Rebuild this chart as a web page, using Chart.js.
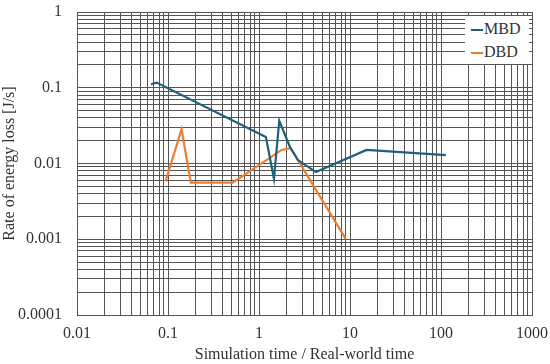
<!DOCTYPE html>
<html>
<head>
<meta charset="utf-8">
<script src="https://cdn.jsdelivr.net/npm/chart.js@4"></script>
<style>
  html, body { margin: 0; padding: 0; background: #fff; }
  #wrap { position: relative; width: 550px; height: 364px; }
  #legend {
    position: absolute; left: 465px; top: 16px; width: 64px; height: 48px;
    background: #fff; font-family: "Liberation Serif", "Times New Roman", serif;
    font-size: 16px; color: #333;
  }
  #legend .item { position: absolute; left: 6px; height: 20px; line-height: 20px; white-space: nowrap; }
  #legend .swatch { display: inline-block; width: 12px; height: 2px; vertical-align: middle; margin-right: 1px; }
</style>
</head>
<body>
<div id="wrap">
  <canvas id="chart" width="550" height="364"></canvas>
  <div id="legend"></div>
</div>
<script>
// Series values (log-log)
const mbdX = [0.065, 0.075, 1.19, 1.46, 1.67, 2.19, 2.68, 4.23, 15.2, 113];
const mbdY = [0.111, 0.117, 0.0224, 0.0063, 0.0367, 0.0165, 0.0111, 0.0077, 0.0151, 0.0129];
const dbdX = [0.094, 0.141, 0.178, 0.514, 1.77, 2.23, 8.97];
const dbdY = [0.0058, 0.0283, 0.0056, 0.0056, 0.0151, 0.0159, 0.00101];

const seriesLabels = ["MBD", "DBD"];
const seriesColors = ["#1f5f7e", "#ed7d31"];

// axis ranges (decades)
const xRange = [0.01, 1000];
const yRange = [0.0001, 1];

const fontFamily = '"Liberation Serif", "Times New Roman", serif';
const textColor = "#333";
const gridColor = "#555";

function toPoints(xs, ys) {
  return xs.map((x, i) => ({ x: x, y: ys[i] }));
}

// 1..9 x 10^n ticks so every minor grid line is drawn
function decadeTicks(min, max) {
  const ticks = [];
  for (let d = min; d <= max * 1.0001; d *= 10) {
    for (let m = 1; m <= 9; m++) {
      const v = Number((m * d).toPrecision(6));
      if (v > max * 1.0001) break;
      ticks.push({ value: v, major: m === 1 });
    }
  }
  return ticks;
}

function decadeLabel(value) {
  const lg = Math.log10(value);
  if (Math.abs(lg - Math.round(lg)) < 1e-6) return String(Number(value.toPrecision(6)));
  return "";
}

const ctx = document.getElementById("chart").getContext("2d");
const chart = new Chart(ctx, {
  type: "line",
  data: {
    datasets: [
      {
        label: seriesLabels[0],
        data: toPoints(mbdX, mbdY),
        borderColor: seriesColors[0],
        borderWidth: 2.2,
        pointRadius: 0,
        fill: false,
        tension: 0,
      },
      {
        label: seriesLabels[1],
        data: toPoints(dbdX, dbdY),
        borderColor: seriesColors[1],
        borderWidth: 2.2,
        pointRadius: 0,
        fill: false,
        tension: 0,
      },
    ],
  },
  options: {
    responsive: false,
    animation: false,
    layout: { padding: { left: 0, right: 18, top: 12, bottom: 0 } },
    plugins: {
      legend: { display: false },
      tooltip: { enabled: false },
    },
    scales: {
      x: {
        type: "logarithmic",
        min: xRange[0],
        max: xRange[1],
        afterBuildTicks: (scale) => { scale.ticks = decadeTicks(xRange[0], xRange[1]); },
        afterFit: (scale) => {
          scale.height = 49;
          scale.paddingLeft = 0;
          scale.paddingRight = 0;
        },
        grid: { color: gridColor, lineWidth: 1, drawTicks: false },
        border: { color: gridColor, width: 1 },
        ticks: {
          autoSkip: false,
          maxRotation: 0,
          padding: 9,
          color: textColor,
          font: { family: fontFamily, size: 16 },
          callback: (value) => decadeLabel(value),
        },
        title: {
          display: true,
          text: "Simulation time / Real-world time",
          color: textColor,
          font: { family: fontFamily, size: 16 },
          padding: { top: 0, bottom: 0 },
        },
      },
      y: {
        type: "logarithmic",
        min: yRange[0],
        max: yRange[1],
        afterBuildTicks: (scale) => { scale.ticks = decadeTicks(yRange[0], yRange[1]); },
        afterFit: (scale) => {
          scale.width = 77;
          scale.paddingTop = 0;
          scale.paddingBottom = 0;
        },
        grid: { color: gridColor, lineWidth: 1, drawTicks: false },
        border: { color: gridColor, width: 1 },
        ticks: {
          autoSkip: false,
          padding: 15,
          color: textColor,
          font: { family: fontFamily, size: 16 },
          callback: (value) => decadeLabel(value),
        },
        title: {
          display: true,
          text: "Rate of energy loss [J/s]",
          color: textColor,
          font: { family: fontFamily, size: 16 },
          padding: { top: 0, bottom: 0 },
        },
      },
    },
  },
});

// legend box inside the plot, top right
const legendEl = document.getElementById("legend");
chart.data.datasets.forEach((ds, i) => {
  const item = document.createElement("div");
  item.className = "item";
  item.style.top = (3 + i * 23) + "px";
  const sw = document.createElement("span");
  sw.className = "swatch";
  sw.style.background = ds.borderColor;
  item.appendChild(sw);
  item.appendChild(document.createTextNode(ds.label));
  legendEl.appendChild(item);
});
</script>
</body>
</html>
